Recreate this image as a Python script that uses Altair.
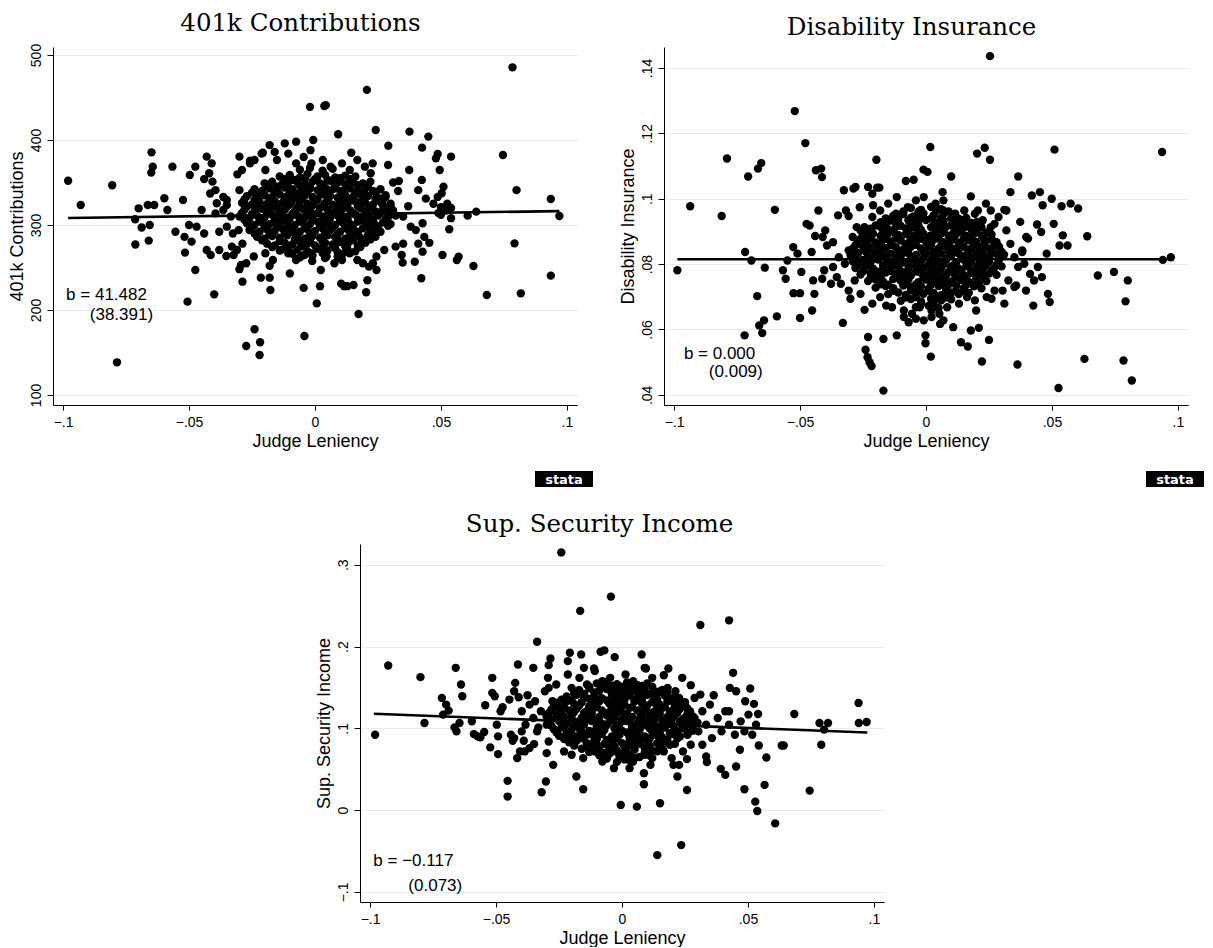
import altair as alt
import pandas as pd

# ---------------- data ----------------
x_ticks = [-0.1, -0.05, 0, 0.05, 0.1]
x_domain = [-0.104, 0.104]

# 401k Contributions
k401_outer = [
    (-0.098, 352), (-0.093, 323.5), (-0.0805, 346.7), (-0.0786, 138.4), (-0.0714, 306.7),
    (-0.0713, 277), (-0.070, 319.6), (-0.0688, 297), (-0.0664, 323.5), (-0.066, 281.6),
    (-0.0656, 300), (-0.0649, 385.5), (-0.0644, 368.6), (-0.065, 361.6), (-0.0638, 323.5),
    (-0.0598, 331.4), (-0.0586, 317.6), (-0.0566, 368.6), (-0.0554, 292), (-0.0524, 329.4),
    (-0.0518, 286), (-0.0516, 267.5), (-0.0506, 209.8), (-0.050, 300), (-0.0497, 358.8),
    (-0.049, 280.4), (-0.0475, 368.6), (-0.0475, 247), (-0.047, 298), (-0.045, 317.6),
    (-0.044, 290), (-0.044, 354), (-0.043, 380.4), (-0.043, 270.6), (-0.042, 360.8),
    (-0.0416, 337), (-0.041, 372.5), (-0.0414, 264.7), (-0.0407, 351), (-0.040, 218.4),
    (-0.0395, 313.7), (-0.039, 325.5), (-0.038, 292), (-0.0364, 317.6), (-0.0352, 263.5),
    (-0.035, 329.4), (-0.033, 274.5), (-0.0323, 264.7), (-0.0308, 359.6), (-0.030, 380.4),
    (-0.030, 341), (-0.0294, 253), (-0.030, 248), (-0.0288, 233.3), (-0.0273, 157.6),
    (-0.0258, 375.7), (-0.024, 177.3), (-0.0218, 162), (-0.022, 147), (-0.0215, 238),
    (-0.0207, 385), (-0.018, 394), (-0.018, 238), (-0.0177, 223.5), (-0.018, 252),
    (-0.016, 386), (-0.012, 396), (-0.010, 243), (-0.0075, 398), (-0.005, 264),
    (-0.0045, 226), (-0.0042, 169.4), (-0.002, 439), (-0.0018, 388), (-0.0007, 400),
    (-0.0011, 257.6), (0.0007, 207.8), (0.002, 228), (0.0023, 247), (0.0037, 440),
    (0.0043, 441), (0.0092, 406.7), (0.0104, 231), (0.0116, 228), (0.0128, 228),
    (0.0144, 385), (0.0153, 229.4), (0.0173, 195.3), (0.0203, 220.8), (0.0206, 459),
    (0.0208, 235), (0.0241, 411.8), (0.0291, 393.3), (0.029, 370.6), (0.0333, 351.8),
    (0.0344, 264.7), (0.0348, 255.7), (0.0375, 409.8), (0.0374, 364.7), (0.0396, 256.7),
    (0.0422, 237.3), (0.0425, 391), (0.0424, 353), (0.0427, 268.6), (0.045, 404),
    (0.0454, 279), (0.048, 378.4), (0.0487, 383.5), (0.0495, 364.7), (0.0503, 337.3),
    (0.0506, 264.7), (0.051, 345), (0.0533, 295), (0.054, 380.4), (0.054, 308),
    (0.0563, 258.8), (0.057, 262.7), (0.0606, 311), (0.0629, 251.8), (0.064, 315.7),
    (0.0682, 217.6), (0.0746, 382.4), (0.0784, 485.5), (0.0792, 278.4), (0.080, 341),
    (0.0817, 219.6), (0.0936, 330.6), (0.0936, 240.4), (0.097, 310.6),
]
k401_ring = [
    (0.028, 333), (0.041, 341), (0.044, 331), (0.047, 325), (0.0487, 333), (0.050, 321),
    (0.052, 317), (0.0525, 325), (0.054, 320), (0.050, 312), (0.049, 314), (0.037, 322),
    (0.035, 310), (0.038, 298), (0.040, 294), (0.0427, 302), (0.0434, 286), (0.041, 278),
    (0.035, 278), (0.032, 274.5), (0.0275, 270.6), (0.0244, 263), (0.023, 255), (0.0244, 247),
    (0.0214, 251), (-0.0395, 341), (-0.0364, 333), (-0.035, 323.5), (-0.0334, 310),
    (-0.035, 298), (-0.0326, 290), (-0.0303, 294), (-0.0288, 278), (-0.031, 270.6),
    (-0.038, 270.6), (-0.029, 364.7), (-0.0258, 372.5), (-0.024, 376.5), (-0.0212, 384),
    (-0.0197, 364.7), (-0.0151, 376.5), (-0.0106, 384), (-0.0075, 372.5), (-0.0045, 380),
    (-0.0014, 372.5), (0.0031, 376.5), (0.0062, 368.6), (0.0107, 372.5), (0.0138, 364.7),
    (0.0168, 376.5), (0.0198, 368.6), (0.0229, 372.5), (0.0221, 360.8), (-0.0273, 255),
    (-0.0243, 263), (-0.0197, 266.7), (-0.0167, 258.8), (-0.0136, 270.6), (-0.0106, 266.7),
    (-0.0075, 258.8), (-0.0014, 266.7), (0.0046, 263), (0.0077, 255), (0.0107, 258.8),
    (0.0138, 266.7), (0.0168, 258.8), (0.019, 255), (0.033, 340), (0.031, 350),
]
k401_core = [
    (-0.006, 365), (-0.002, 367), (0.003, 364), (0.007, 366),
    (-0.014, 357), (-0.010, 359), (-0.006, 356), (-0.003, 360), (0.001, 357), (0.004, 359),
    (0.008, 356), (0.012, 358), (0.016, 357),
    (-0.020, 349), (-0.017, 351), (-0.013, 348), (-0.010, 352), (-0.007, 350), (-0.004, 348),
    (-0.001, 351), (0.002, 349), (0.006, 352), (0.009, 350), (0.012, 348), (0.015, 351),
    (0.019, 349), (0.022, 351),
    (-0.024, 342), (-0.021, 340), (-0.018, 343), (-0.015, 341), (-0.012, 344), (-0.009, 342),
    (-0.005, 340), (-0.002, 343), (0.001, 341), (0.004, 344), (0.007, 342), (0.010, 340),
    (0.014, 343), (0.017, 341), (0.020, 343), (0.023, 340), (0.026, 342),
    (-0.027, 334), (-0.023, 332), (-0.020, 335), (-0.017, 333), (-0.014, 336), (-0.011, 334),
    (-0.008, 332), (-0.004, 335), (-0.001, 333), (0.003, 336), (0.006, 334), (0.009, 332),
    (0.012, 335), (0.015, 333), (0.018, 336), (0.021, 334), (0.025, 332), (0.028, 335),
    (-0.029, 326), (-0.025, 324), (-0.022, 327), (-0.019, 325), (-0.016, 328), (-0.013, 326),
    (-0.010, 324), (-0.006, 327), (-0.003, 325), (0.000, 328), (0.004, 326), (0.007, 324),
    (0.010, 327), (0.013, 325), (0.016, 328), (0.020, 326), (0.023, 324), (0.026, 327),
    (0.030, 325),
    (-0.028, 318), (-0.024, 316), (-0.021, 319), (-0.018, 317), (-0.015, 320), (-0.012, 318),
    (-0.008, 316), (-0.005, 319), (-0.002, 317), (0.002, 320), (0.005, 318), (0.008, 316),
    (0.011, 319), (0.014, 317), (0.018, 320), (0.021, 318), (0.024, 316), (0.028, 319),
    (0.031, 317),
    (-0.030, 310), (-0.026, 308), (-0.023, 311), (-0.020, 309), (-0.017, 312), (-0.013, 310),
    (-0.010, 308), (-0.007, 311), (-0.004, 309), (-0.001, 312), (0.003, 310), (0.006, 308),
    (0.009, 311), (0.012, 309), (0.016, 312), (0.019, 310), (0.022, 308), (0.025, 311),
    (0.029, 309), (0.032, 311),
    (-0.027, 302), (-0.024, 300), (-0.021, 303), (-0.018, 301), (-0.014, 304), (-0.011, 302),
    (-0.008, 300), (-0.005, 303), (-0.002, 301), (0.001, 304), (0.005, 302), (0.008, 300),
    (0.011, 303), (0.014, 301), (0.017, 304), (0.020, 302), (0.024, 300), (0.027, 303),
    (0.030, 301),
    (-0.026, 294), (-0.022, 292), (-0.019, 295), (-0.016, 293), (-0.013, 296), (-0.009, 294),
    (-0.006, 292), (-0.003, 295), (0.000, 293), (0.003, 296), (0.006, 294), (0.010, 292),
    (0.013, 295), (0.016, 293), (0.019, 296), (0.022, 294), (0.026, 292),
    (-0.023, 286), (-0.020, 284), (-0.017, 287), (-0.014, 285), (-0.011, 288), (-0.007, 286),
    (-0.004, 284), (-0.001, 287), (0.002, 285), (0.005, 288), (0.008, 286), (0.012, 284),
    (0.015, 287), (0.018, 285), (0.021, 288), (0.024, 286),
    (-0.019, 278), (-0.016, 276), (-0.012, 279), (-0.009, 277), (-0.006, 280), (-0.003, 278),
    (0.000, 276), (0.004, 279), (0.007, 277), (0.010, 280), (0.013, 278), (0.017, 276),
    (0.020, 279),
    (-0.014, 270), (-0.010, 268), (-0.007, 271), (-0.003, 269), (0.001, 272), (0.005, 270),
    (0.009, 268), (0.013, 271), (0.016, 269),
    (-0.006, 262), (-0.001, 264), (0.004, 261), (0.009, 263),
]
k401_fill = [
    (-0.012, 354), (-0.008, 353), (-0.004, 355), (0.000, 354), (0.005, 353), (0.010, 355),
    (0.014, 354),
    (-0.019, 346), (-0.015, 345), (-0.011, 347), (-0.006, 346), (-0.002, 345), (0.003, 347),
    (0.008, 346), (0.013, 345), (0.017, 347), (0.021, 346),
    (-0.025, 338), (-0.022, 337), (-0.016, 339), (-0.010, 338), (-0.007, 337), (-0.003, 339),
    (0.002, 338), (0.005, 337), (0.011, 339), (0.016, 338), (0.019, 337), (0.024, 339),
    (-0.028, 330), (-0.024, 329), (-0.018, 331), (-0.012, 330), (-0.009, 329), (-0.005, 331),
    (0.001, 330), (0.005, 329), (0.011, 331), (0.014, 330), (0.019, 329), (0.024, 331),
    (0.027, 330),
    (-0.027, 322), (-0.023, 321), (-0.017, 323), (-0.011, 322), (-0.007, 321), (-0.001, 323),
    (0.003, 322), (0.009, 321), (0.012, 323), (0.017, 322), (0.022, 321), (0.027, 323),
    (0.030, 322),
    (-0.029, 314), (-0.025, 313), (-0.019, 315), (-0.014, 314), (-0.009, 313), (-0.003, 315),
    (0.001, 314), (0.007, 313), (0.010, 315), (0.015, 314), (0.020, 313), (0.026, 315),
    (0.030, 314),
    (-0.028, 306), (-0.022, 305), (-0.016, 307), (-0.012, 306), (-0.006, 305), (-0.001, 307),
    (0.004, 306), (0.010, 305), (0.013, 307), (0.018, 306), (0.023, 305), (0.028, 307),
    (-0.025, 298), (-0.020, 297), (-0.015, 299), (-0.010, 298), (-0.004, 297), (0.002, 299),
    (0.007, 298), (0.012, 297), (0.015, 299), (0.021, 298), (0.025, 297), (0.029, 299),
    (-0.024, 290), (-0.018, 289), (-0.012, 291), (-0.008, 290), (-0.002, 289), (0.004, 291),
    (0.009, 290), (0.014, 289), (0.017, 291), (0.023, 290),
    (-0.021, 282), (-0.014, 281), (-0.008, 283), (-0.002, 282), (0.003, 281), (0.009, 283),
    (0.015, 282), (0.019, 281), (0.022, 283),
    (-0.017, 274), (-0.011, 273), (-0.005, 275), (0.003, 274), (0.008, 273), (0.012, 275),
    (0.018, 274),
    (-0.009, 266), (-0.004, 265), (0.003, 267), (0.011, 266),
]
k401_fit_x = [-0.098, 0.097]
k401_fit_y = [308.2, 316.3]
k401_notes = [(-0.0988, 211.8, "b = 41.482"), (-0.0894, 188.6, "(38.391)")]

# Disability Insurance
di_outer = [
    (-0.0987, .0781), (-0.0936, .0977), (-0.0811, .0947), (-0.079, .1123), (-0.0718, .0837),
    (-0.072, .0582), (-0.0706, .1068), (-0.0693, .0811), (-0.067, .0702), (-0.0667, .1092),
    (-0.0654, .1109), (-0.0662, .0612), (-0.065, .0589), (-0.0643, .0628), (-0.064, .0789),
    (-0.060, .0966), (-0.0592, .064), (-0.0568, .0781), (-0.0557, .0755), (-0.055, .0811),
    (-0.0527, .0852), (-0.0526, .0711), (-0.0521, .1268), (-0.051, .0832), (-0.050, .0711),
    (-0.050, .0635), (-0.0495, .0776), (-0.0479, .117), (-0.0474, .0923), (-0.0462, .0918),
    (-0.0454, .0837), (-0.0452, .0658), (-0.0448, .075), (-0.0443, .0709), (-0.044, .0886),
    (-0.0437, .1087), (-0.0427, .0964), (-0.0416, .1092), (-0.0413, .1066), (-0.0412, .0755),
    (-0.041, .0883), (-0.0404, .0781), (-0.0393, .0857), (-0.0377, .074), (-0.0354, .076),
    (-0.0349, .0949), (-0.033, .062), (-0.0326, .1026), (-0.0318, .0964), (-0.0307, .0947),
    (-0.030, .0694), (-0.0288, .1031), (-0.028, .1036), (-0.0263, .0974), (-0.026, .0709),
    (-0.0244, .066), (-0.024, .0538), (-0.0232, .0515), (-0.023, .1036), (-0.023, .0577),
    (-0.0224, .05), (-0.0216, .0488), (-0.0213, .1015), (-0.021, .098), (-0.0197, .1119),
    (-0.0194, .1034), (-0.0185, .1034), (-0.0169, .0571), (-0.0169, .0413), (-0.0158, .0673),
    (-0.0116, .0582), (-0.0116, .1005), (-0.0088, .0638), (-0.008, .1054), (-0.0069, .0622),
    (-0.0049, .1058), (-0.001, .1089), (-0.0002, .0558), (-0.0002, .0582), (0.0006, .1082),
    (0.0017, .1158), (0.0019, .0517), (0.0022, .0638), (0.0066, .102), (0.0069, .0995),
    (0.0056, .0617), (0.010, .1068), (0.0108, .0607), (0.0139, .0561), (0.0152, .0964),
    (0.0166, .0548), (0.0178, .1007), (0.0178, .0597), (0.0199, .0658), (0.0203, .1138),
    (0.0202, .0929), (0.0206, .0964), (0.021, .0605), (0.0222, .0502), (0.0233, .1156),
    (0.0238, .0985), (0.0254, .1119), (0.0254, .1436), (0.025, .0568), (0.026, .0694),
    (0.0272, .0923), (0.0311, .0679), (0.0311, .0966), (0.0335, .102), (0.0358, .0735),
    (0.0363, .0493), (0.0366, .1068), (0.0374, .0929), (0.0382, .0837), (0.0397, .0719),
    (0.0405, .0878), (0.042, .101), (0.0426, .0673), (0.0441, .0921), (0.0452, .102),
    (0.0457, .0898), (0.0463, .098), (0.0479, .0832), (0.0484, .0709), (0.0491, .0684),
    (0.0499, .1), (0.0507, .0923), (0.051, .115), (0.0526, .0421), (0.053, .0857),
    (0.0538, .0977), (0.0543, .0888), (0.0562, .0857), (0.0574, .0985), (0.0604, .097),
    (0.0629, .051), (0.064, .0885), (0.0682, .0765), (0.0746, .0776), (0.0784, .0505),
    (0.0792, .0686), (0.0801, .075), (0.0817, .0444), (0.0937, .1143), (0.094, .0813),
    (0.0972, .0821),
]
di_ring = [
    (-0.040, .0903), (-0.0369, .0867), (-0.0346, .0821), (-0.0369, .0791), (-0.0322, .0801),
    (-0.0307, .0842), (-0.0291, .0883), (-0.0338, .074), (-0.0307, .0719), (-0.0283, .075),
    (-0.0275, .0913), (-0.026, .0903), (0.0319, .0903), (0.0335, .0862), (0.0351, .0821),
    (0.0366, .0791), (0.039, .0801), (0.0413, .077), (0.0429, .075), (0.0444, .0791),
    (0.046, .076), (0.0327, .075), (0.0351, .073), (0.0382, .0842), (0.0398, .0883),
    (0.0304, .0719), (0.0319, .0964), (-0.0182, .0964), (-0.015, .0985), (-0.0119, .0954),
    (-0.0072, .0974), (-0.004, .0995), (-0.0009, .1005), (0.0038, .0985), (0.0069, .0964),
    (0.0116, .0954), (0.0147, .0923), (0.0194, .0954), (0.0225, .0934), (0.0257, .0913),
    (0.0288, .0944), (0.0257, .0964), (-0.0213, .0944), (-0.0244, .0913), (-0.0213, .0679),
    (-0.0182, .0699), (-0.0135, .0668), (-0.0088, .0658), (-0.0056, .0648), (-0.0025, .0668),
    (0.0022, .0658), (0.0053, .0648), (0.0084, .0668), (0.0131, .0679), (0.0163, .0699),
    (0.0194, .0689), (0.0241, .0699), (0.0272, .0719), (0.0069, .0628), (-0.0009, .0628),
    (-0.004, .0633),
]
di_core = [
    (-0.006, .0972), (-0.002, .0966), (0.002, .0975), (0.006, .0968),
    (-0.013, .0948), (-0.009, .0953), (-0.005, .0946), (-0.001, .0955), (0.003, .0949),
    (0.007, .0954), (0.011, .0947),
    (-0.018, .0928), (-0.014, .0933), (-0.011, .0926), (-0.007, .0934), (-0.004, .0929),
    (0.000, .0935), (0.004, .0927), (0.007, .0933), (0.011, .0928), (0.014, .0934), (0.018, .0926),
    (-0.022, .0908), (-0.018, .0913), (-0.015, .0906), (-0.012, .0914), (-0.008, .0909),
    (-0.005, .0912), (-0.002, .0905), (0.002, .0913), (0.005, .0908), (0.008, .0914),
    (0.012, .0907), (0.015, .0912), (0.018, .0906), (0.022, .0913),
    (-0.025, .0888), (-0.021, .0893), (-0.018, .0886), (-0.015, .0894), (-0.011, .0889),
    (-0.008, .0892), (-0.005, .0885), (-0.001, .0893), (0.002, .0888), (0.006, .0894),
    (0.009, .0887), (0.012, .0892), (0.016, .0886), (0.019, .0893), (0.022, .0888), (0.026, .0891),
    (-0.027, .0868), (-0.024, .0873), (-0.020, .0866), (-0.017, .0874), (-0.014, .0869),
    (-0.010, .0872), (-0.007, .0865), (-0.004, .0873), (0.000, .0868), (0.003, .0874),
    (0.007, .0867), (0.010, .0872), (0.013, .0866), (0.017, .0873), (0.020, .0868),
    (0.024, .0871), (0.028, .0867),
    (-0.029, .0848), (-0.025, .0853), (-0.022, .0846), (-0.019, .0854), (-0.016, .0849),
    (-0.012, .0852), (-0.009, .0845), (-0.006, .0853), (-0.002, .0848), (0.001, .0854),
    (0.005, .0847), (0.008, .0852), (0.011, .0846), (0.015, .0853), (0.018, .0848),
    (0.021, .0851), (0.025, .0847), (0.029, .0853),
    (-0.030, .0828), (-0.027, .0833), (-0.023, .0826), (-0.020, .0834), (-0.017, .0829),
    (-0.014, .0832), (-0.010, .0825), (-0.007, .0833), (-0.004, .0828), (0.000, .0834),
    (0.003, .0827), (0.006, .0832), (0.010, .0826), (0.013, .0833), (0.016, .0828),
    (0.020, .0831), (0.023, .0827), (0.027, .0833), (0.031, .0829),
    (-0.029, .0808), (-0.025, .0813), (-0.022, .0806), (-0.019, .0814), (-0.015, .0809),
    (-0.012, .0812), (-0.009, .0805), (-0.005, .0813), (-0.002, .0808), (0.002, .0814),
    (0.005, .0807), (0.008, .0812), (0.012, .0806), (0.015, .0813), (0.018, .0808),
    (0.022, .0811), (0.025, .0807), (0.029, .0813),
    (-0.028, .0788), (-0.024, .0793), (-0.021, .0786), (-0.017, .0794), (-0.014, .0789),
    (-0.011, .0792), (-0.007, .0785), (-0.004, .0793), (-0.001, .0788), (0.003, .0794),
    (0.006, .0787), (0.010, .0792), (0.013, .0786), (0.016, .0793), (0.020, .0788),
    (0.023, .0791), (0.027, .0787), (0.030, .0793),
    (-0.026, .0768), (-0.022, .0773), (-0.019, .0766), (-0.016, .0774), (-0.012, .0769),
    (-0.009, .0772), (-0.006, .0765), (-0.002, .0773), (0.001, .0768), (0.005, .0774),
    (0.008, .0767), (0.011, .0772), (0.015, .0766), (0.018, .0773), (0.021, .0768),
    (0.025, .0771), (0.028, .0767),
    (-0.023, .0748), (-0.020, .0753), (-0.017, .0746), (-0.013, .0754), (-0.010, .0749),
    (-0.007, .0752), (-0.003, .0745), (0.000, .0753), (0.004, .0748), (0.007, .0754),
    (0.010, .0747), (0.014, .0752), (0.017, .0746), (0.020, .0753), (0.024, .0748),
    (-0.020, .0728), (-0.016, .0733), (-0.013, .0726), (-0.009, .0734), (-0.006, .0729),
    (-0.002, .0732), (0.001, .0725), (0.005, .0733), (0.008, .0728), (0.012, .0734),
    (0.015, .0727), (0.019, .0732), (0.022, .0726),
    (-0.015, .0708), (-0.011, .0713), (-0.008, .0706), (-0.004, .0714), (-0.001, .0709),
    (0.003, .0712), (0.006, .0705), (0.010, .0713), (0.013, .0708), (0.017, .0712),
    (-0.010, .0688), (-0.006, .0693), (-0.002, .0686), (0.002, .0694), (0.006, .0689),
    (0.010, .0692),
    (-0.004, .0668), (0.001, .0673), (0.005, .0666),
]
di_fill = [
    (-0.009, .0961), (-0.003, .0960), (0.004, .0962), (0.009, .0961),
    (-0.016, .0940), (-0.011, .0939), (-0.006, .0941), (-0.002, .0940), (0.002, .0939),
    (0.006, .0941), (0.010, .0940), (0.013, .0939), (0.016, .0941),
    (-0.020, .0918), (-0.016, .0919), (-0.010, .0917), (-0.006, .0918), (-0.003, .0919),
    (0.003, .0917), (0.006, .0918), (0.010, .0919), (0.013, .0917), (0.017, .0918), (0.020, .0919),
    (-0.023, .0898), (-0.017, .0897), (-0.013, .0899), (-0.007, .0898), (-0.003, .0897),
    (0.004, .0899), (0.007, .0898), (0.011, .0897), (0.014, .0899), (0.020, .0898), (0.024, .0897),
    (-0.026, .0878), (-0.022, .0879), (-0.016, .0877), (-0.012, .0878), (-0.006, .0879),
    (-0.002, .0877), (0.001, .0878), (0.005, .0879), (0.011, .0877), (0.015, .0878),
    (0.018, .0879), (0.023, .0877), (0.026, .0878),
    (-0.028, .0858), (-0.023, .0857), (-0.018, .0859), (-0.014, .0858), (-0.008, .0857),
    (-0.004, .0859), (0.002, .0858), (0.006, .0857), (0.009, .0859), (0.013, .0858),
    (0.019, .0857), (0.023, .0859), (0.027, .0858),
    (-0.028, .0838), (-0.024, .0839), (-0.018, .0837), (-0.011, .0838), (-0.008, .0839),
    (-0.001, .0837), (0.003, .0838), (0.009, .0839), (0.012, .0837), (0.017, .0838),
    (0.022, .0839), (0.026, .0837), (0.030, .0838),
    (-0.028, .0818), (-0.021, .0817), (-0.016, .0819), (-0.012, .0818), (-0.006, .0817),
    (-0.001, .0819), (0.004, .0818), (0.008, .0817), (0.014, .0819), (0.018, .0818),
    (0.021, .0817), (0.025, .0819), (0.029, .0818),
    (-0.027, .0798), (-0.023, .0799), (-0.017, .0797), (-0.013, .0798), (-0.007, .0799),
    (-0.003, .0797), (0.001, .0798), (0.007, .0799), (0.011, .0797), (0.017, .0798),
    (0.021, .0799), (0.024, .0797), (0.028, .0798),
    (-0.025, .0778), (-0.019, .0777), (-0.014, .0779), (-0.010, .0778), (-0.004, .0777),
    (0.002, .0779), (0.004, .0778), (0.009, .0777), (0.014, .0779), (0.018, .0778),
    (0.022, .0777), (0.026, .0779),
    (-0.022, .0758), (-0.018, .0759), (-0.011, .0757), (-0.008, .0758), (-0.001, .0759),
    (0.003, .0757), (0.006, .0758), (0.012, .0759), (0.016, .0757), (0.020, .0758), (0.023, .0759),
    (-0.018, .0738), (-0.015, .0737), (-0.008, .0739), (-0.004, .0738), (0.002, .0737),
    (0.006, .0739), (0.009, .0738), (0.016, .0737), (0.021, .0739),
    (-0.013, .0718), (-0.006, .0719), (-0.003, .0717), (0.001, .0718), (0.008, .0719),
    (0.012, .0717), (0.015, .0718),
    (-0.008, .0698), (-0.004, .0699), (0.004, .0697), (0.008, .0698),
    (-0.002, .0678), (0.003, .0679),
]
di_fit_x = [-0.0987, 0.0972]
di_fit_y = [0.0815, 0.0815]
di_notes = [(-0.0961, 0.0511, "b = 0.000"), (-0.0862, 0.0454, "(0.009)")]

# Sup. Security Income
ssi_outer = [
    (-0.098, .0922), (-0.0928, .1769), (-0.080, .1626), (-0.0784, .1065), (-0.0715, .1372),
    (-0.071, .1168), (-0.0698, .129), (-0.0688, .1217), (-0.0665, .1012), (-0.066, .174),
    (-0.0657, .0963), (-0.0645, .1065), (-0.0639, .1536), (-0.0634, .1393), (-0.0596, .1086),
    (-0.0588, .093), (-0.0573, .0902), (-0.0562, .089), (-0.0547, .0955), (-0.0543, .1282),
    (-0.0523, .0767), (-0.0515, .1618), (-0.0515, .1434), (-0.0505, .1393), (-0.0497, .1045),
    (-0.0492, .0902), (-0.0492, .0685), (-0.0482, .1209), (-0.0474, .1258), (-0.0454, .0358),
    (-0.0454, .0166), (-0.0447, .1352), (-0.0441, .0922), (-0.0434, .0849), (-0.0424, .1556),
    (-0.0416, .0636), (-0.0413, .1781), (-0.041, .138), (-0.0398, .0963), (-0.0386, .0718),
    (-0.039, .0849), (-0.0375, .1405), (-0.0352, .174), (-0.0349, .0808), (-0.0345, .1331),
    (-0.0337, .2059), (-0.0332, .1012), (-0.0319, .0219), (-0.0302, .035), (-0.0299, .0697),
    (-0.0294, .1618), (-0.0291, .1773), (-0.0284, .1855), (-0.0273, .0554), (-0.0241, .3151),
    (-0.0215, .1822), (-0.0207, .1924), (-0.0181, .0411), (-0.0166, .2436), (-0.0162, .1904),
    (-0.0154, .0256), (-0.0151, .174), (-0.0111, .1732), (-0.0085, .1937), (-0.007, .1953),
    (-0.0044, .2611), (-0.0029, .1871), (-0.0005, .0063), (0.0059, .0043), (0.0078, .1904),
    (0.0087, .0452), (0.0087, .0317), (0.0095, .1732), (0.0113, .0554), (0.014, -.055),
    (0.0151, .0084), (0.0166, .165), (0.0184, .1732), (0.0204, .0554), (0.022, .0411),
    (0.0235, -.0427), (0.0239, .1618), (0.0258, .0247), (0.0258, .0624), (0.0273, .1528),
    (0.0311, .2264), (0.0311, .1413), (0.0319, .08), (0.0334, .0656), (0.0337, .0587),
    (0.0364, .1405), (0.0392, .0505), (0.041, .0431), (0.0425, .2321), (0.0428, .1495),
    (0.0441, .1679), (0.0453, .0534), (0.0453, .1454), (0.0468, .0738), (0.0486, .0256),
    (0.0489, .1331), (0.0509, .1487), (0.0524, .1299), (0.0529, .0104), (0.0537, -.001),
    (0.054, .1176), (0.0543, .0791), (0.0573, .0644), (0.0566, .0309), (0.0608, -.0162),
    (0.0634, .0791), (0.0642, .0791), (0.0684, .1176), (0.0745, .0239), (0.0784, .1065),
    (0.0791, .08), (0.0802, .0984), (0.0818, .1065), (0.0939, .1311), (0.094, .1065),
    (0.0971, .1078),
]
ssi_ring = [
    (-0.0428, .1454), (-0.0398, .1209), (-0.0383, .1045), (-0.0367, .129), (-0.0352, .1127),
    (-0.0337, .0963), (-0.0322, .1209), (-0.0306, .1454), (-0.0299, .1045), (-0.0291, .084),
    (-0.0276, .1331), (-0.0428, .0881), (-0.0405, .0718), (-0.0367, .0759), (0.0258, .1249),
    (0.0288, .1127), (0.0303, .0963), (0.0319, .1209), (0.0334, .1045), (0.0357, .0881),
    (0.038, .1127), (0.0395, .0963), (0.041, .1209), (0.0425, .1045), (0.0448, .0922),
    (0.0471, .1086), (0.0486, .0963), (0.0502, .1168), (0.0517, .0922), (0.0532, .1045),
    (0.0273, .08), (0.0242, .0718), (0.0288, .1372), (0.0349, .129), (0.0425, .1209),
    (-0.0291, .1495), (-0.0261, .1536), (-0.0215, .1658), (-0.020, .1495), (-0.0169, .1618),
    (-0.0139, .1536), (-0.0108, .170), (-0.0078, .1577), (-0.0047, .1618), (0.0014, .1658),
    (0.0044, .1577), (0.0059, .1495), (0.009, .174), (0.012, .1618), (0.0151, .1454),
    (0.0181, .1495), (0.0212, .1454), (0.0227, .1372), (-0.023, .0718), (-0.020, .0677),
    (-0.0154, .0636), (-0.0108, .0718), (-0.0078, .0595), (-0.0032, .0513), (0.0014, .0636),
    (0.003, .0513), (0.0044, .0595), (0.009, .0677), (0.012, .0636), (0.0166, .0718),
    (0.0197, .0636), (0.0227, .0554),
]
ssi_core = [
    (-0.010, .155), (-0.006, .157), (-0.002, .154), (0.002, .156), (0.006, .153), (0.010, .155),
    (-0.017, .147), (-0.013, .149), (-0.009, .146), (-0.006, .148), (-0.002, .145),
    (0.001, .149), (0.005, .146), (0.009, .148), (0.013, .145), (0.016, .147),
    (-0.022, .139), (-0.018, .141), (-0.015, .138), (-0.011, .140), (-0.008, .137),
    (-0.004, .141), (-0.001, .138), (0.003, .140), (0.006, .137), (0.010, .141),
    (0.013, .138), (0.017, .140), (0.020, .137),
    (-0.026, .131), (-0.022, .133), (-0.019, .130), (-0.016, .132), (-0.012, .129),
    (-0.009, .133), (-0.005, .130), (-0.002, .132), (0.001, .129), (0.005, .133),
    (0.008, .130), (0.012, .132), (0.015, .129), (0.018, .133), (0.022, .130), (0.025, .132),
    (-0.028, .123), (-0.025, .125), (-0.021, .122), (-0.018, .124), (-0.014, .121),
    (-0.011, .125), (-0.008, .122), (-0.004, .124), (-0.001, .121), (0.003, .125),
    (0.006, .122), (0.009, .124), (0.013, .121), (0.016, .125), (0.020, .122),
    (0.023, .124), (0.027, .121),
    (-0.030, .115), (-0.026, .117), (-0.023, .114), (-0.020, .116), (-0.016, .113),
    (-0.013, .117), (-0.009, .114), (-0.006, .116), (-0.003, .113), (0.001, .117),
    (0.004, .114), (0.008, .116), (0.011, .113), (0.014, .117), (0.018, .114),
    (0.021, .116), (0.025, .113), (0.028, .115),
    (-0.029, .107), (-0.025, .109), (-0.022, .106), (-0.018, .108), (-0.015, .105),
    (-0.012, .109), (-0.008, .106), (-0.005, .108), (-0.001, .105), (0.002, .109),
    (0.006, .106), (0.009, .108), (0.012, .105), (0.016, .109), (0.019, .106),
    (0.023, .108), (0.026, .105), (0.030, .107),
    (-0.027, .099), (-0.024, .101), (-0.020, .098), (-0.017, .100), (-0.013, .097),
    (-0.010, .101), (-0.007, .098), (-0.003, .100), (0.000, .097), (0.004, .101),
    (0.007, .098), (0.011, .100), (0.014, .097), (0.017, .101), (0.021, .098),
    (0.024, .100), (0.028, .097),
    (-0.025, .091), (-0.021, .093), (-0.018, .090), (-0.014, .092), (-0.011, .089),
    (-0.008, .093), (-0.004, .090), (-0.001, .092), (0.003, .089), (0.006, .093),
    (0.009, .090), (0.013, .092), (0.016, .089), (0.020, .093), (0.023, .090), (0.026, .092),
    (-0.021, .083), (-0.018, .085), (-0.014, .082), (-0.011, .084), (-0.007, .081),
    (-0.004, .085), (0.000, .082), (0.003, .084), (0.007, .081), (0.010, .085),
    (0.014, .082), (0.017, .084), (0.021, .081),
    (-0.016, .075), (-0.012, .077), (-0.009, .074), (-0.005, .076), (-0.002, .073),
    (0.002, .077), (0.005, .074), (0.009, .076), (0.012, .073), (0.016, .075),
    (-0.009, .067), (-0.005, .069), (-0.001, .066), (0.003, .068), (0.007, .065), (0.011, .067),
    (-0.002, .059), (0.003, .061),
]
ssi_fill = [
    (-0.013, .151), (-0.008, .150), (-0.004, .152), (0.000, .151), (0.004, .150),
    (0.008, .152), (0.012, .151),
    (-0.019, .143), (-0.015, .142), (-0.011, .144), (-0.004, .143), (0.000, .142),
    (0.003, .144), (0.007, .143), (0.011, .142), (0.015, .144), (0.018, .143),
    (-0.024, .135), (-0.020, .134), (-0.013, .136), (-0.010, .135), (-0.006, .134),
    (-0.003, .136), (0.001, .135), (0.005, .134), (0.008, .136), (0.014, .135),
    (0.019, .134), (0.022, .136),
    (-0.027, .127), (-0.023, .126), (-0.017, .128), (-0.013, .127), (-0.010, .126),
    (-0.003, .128), (0.000, .127), (0.004, .126), (0.010, .128), (0.014, .127),
    (0.017, .126), (0.021, .128), (0.025, .127),
    (-0.029, .119), (-0.024, .118), (-0.019, .120), (-0.015, .119), (-0.012, .118),
    (-0.005, .120), (-0.002, .119), (0.002, .118), (0.007, .120), (0.011, .119),
    (0.015, .118), (0.019, .120), (0.022, .119), (0.026, .118),
    (-0.028, .111), (-0.024, .110), (-0.020, .112), (-0.014, .111), (-0.011, .110),
    (-0.004, .112), (0.000, .111), (0.003, .110), (0.007, .112), (0.013, .111),
    (0.017, .110), (0.020, .112), (0.024, .111), (0.027, .110),
    (-0.028, .103), (-0.023, .102), (-0.019, .104), (-0.016, .103), (-0.010, .102),
    (-0.006, .104), (-0.002, .103), (0.004, .102), (0.008, .104), (0.010, .103),
    (0.014, .102), (0.020, .104), (0.025, .103), (0.028, .102),
    (-0.026, .095), (-0.022, .094), (-0.016, .096), (-0.012, .095), (-0.009, .094),
    (-0.002, .096), (0.002, .095), (0.005, .094), (0.012, .096), (0.015, .095),
    (0.019, .094), (0.022, .096), (0.026, .095),
    (-0.023, .087), (-0.019, .086), (-0.016, .088), (-0.010, .087), (-0.006, .086),
    (-0.002, .088), (0.005, .087), (0.008, .086), (0.011, .088), (0.015, .087),
    (0.018, .086), (0.022, .088),
    (-0.019, .079), (-0.014, .078), (-0.010, .080), (-0.003, .079), (0.001, .078),
    (0.005, .080), (0.011, .079), (0.015, .078), (0.019, .080),
    (-0.013, .071), (-0.007, .070), (-0.003, .072), (0.001, .071), (0.009, .070), (0.014, .072),
    (-0.006, .063), (0.001, .062), (0.005, .064),
]
ssi_fit_x = [-0.0985, 0.0974]
ssi_fit_y = [0.1178, 0.0949]
ssi_notes = [(-0.0987, -0.0681, "b = \u22120.117"), (-0.0848, -0.0988, "(0.073)")]

# ---------------- chart ----------------
LABEL_EXPR = "replace(format(datum.value, '~g'), '0.', '.')"
PANEL_W = 524
PANEL_H = 358


def scatter_panel(title, y_title, points, fit_x, fit_y, y_domain, y_ticks, notes, logo=True):
    x_enc = alt.X('x:Q', title='Judge Leniency',
                  scale=alt.Scale(domain=x_domain, nice=False, zero=False),
                  axis=alt.Axis(values=x_ticks, grid=False, labelExpr=LABEL_EXPR,
                                tickSize=5, labelPadding=5, titlePadding=3))
    y_enc = alt.Y('y:Q', title=y_title,
                  scale=alt.Scale(domain=y_domain, nice=False, zero=False),
                  axis=alt.Axis(values=y_ticks, grid=True, labelExpr=LABEL_EXPR,
                                labelAngle=-90, labelAlign='center', labelBaseline='middle',
                                tickSize=6, labelPadding=11, titlePadding=3))

    dots = alt.Chart(pd.DataFrame(points, columns=['x', 'y'])).mark_circle(
        color='black', opacity=1, size=70
    ).encode(x=x_enc, y=y_enc)

    fit = alt.Chart(pd.DataFrame({'x': fit_x, 'y': fit_y})).mark_line(
        color='black', strokeWidth=2.6
    ).encode(x=x_enc, y=y_enc)

    text = alt.Chart(pd.DataFrame(notes, columns=['x', 'y', 'label'])).mark_text(
        align='left', baseline='alphabetic', font='Liberation Sans', fontSize=17, color='black'
    ).encode(x=x_enc, y=y_enc, text='label:N')

    layers = [dots, fit, text]
    if logo:
        logo_df = pd.DataFrame({'name': ['stata']})
        box = alt.Chart(logo_df).mark_rect(color='black').encode(
            x=alt.value(482), x2=alt.value(540), y=alt.value(424), y2=alt.value(440))
        word = alt.Chart(logo_df).mark_text(
            color='white', font='DejaVu Sans', fontWeight='bold', fontSize=13, baseline='middle'
        ).encode(x=alt.value(511), y=alt.value(432.5), text='name:N')
        layers += [box, word]

    return alt.layer(*layers).properties(
        width=PANEL_W, height=PANEL_H,
        title=alt.TitleParams(title, font='DejaVu Serif', fontSize=24.5, fontWeight='normal',
                              color='black', anchor='middle', frame='bounds',
                              baseline='bottom', offset=-17)
    )


p1 = scatter_panel('401k Contributions', '401k Contributions',
                   k401_outer + k401_ring + k401_core + k401_fill, k401_fit_x, k401_fit_y,
                   [88.2, 509.4], [100, 200, 300, 400, 500], k401_notes)
p2 = scatter_panel('Disability Insurance', 'Disability Insurance',
                   di_outer + di_ring + di_core + di_fill, di_fit_x, di_fit_y,
                   [0.0369, 0.1464], [0.04, 0.06, 0.08, 0.1, 0.12, 0.14], di_notes)
p3 = scatter_panel('Sup. Security Income', 'Sup. Security Income',
                   ssi_outer + ssi_ring + ssi_core + ssi_fill, ssi_fit_x, ssi_fit_y,
                   [-0.1123, 0.3254], [-0.1, 0, 0.1, 0.2, 0.3], ssi_notes, logo=False)

# empty block that pushes the bottom panel to the middle
spacer = alt.Chart(pd.DataFrame({'v': [0]})).mark_point(opacity=0).encode(
    x=alt.X('v:Q', axis=None), y=alt.Y('v:Q', axis=None)
).properties(width=262, height=10)

top = alt.hconcat(p1, p2, spacing=26)
bottom = alt.hconcat(spacer, p3, spacing=0)
chart = alt.vconcat(top, bottom, spacing=24).properties(
    padding={'left': 0, 'top': 2, 'right': 0, 'bottom': 0}, background='white'
).configure_view(stroke=None).configure_axis(
    domainColor='black', domainWidth=1, tickColor='black', tickWidth=1,
    labelColor='black', labelFont='Liberation Sans', labelFontSize=14,
    titleColor='black', titleFont='Liberation Sans', titleFontSize=18, titleFontWeight='normal',
    gridColor='#e3edef', gridWidth=1
)

chart.save("out.html", embed_options={"renderer": "svg", "actions": False})
